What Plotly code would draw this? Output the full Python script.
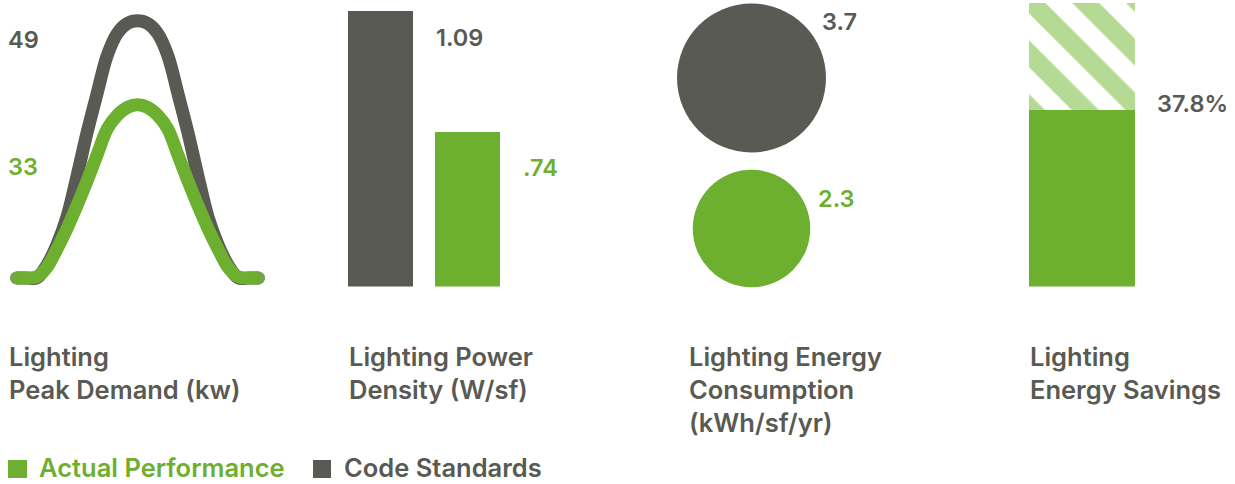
import plotly.graph_objects as go

W, H = 1235, 484
GRAY = "#595A53"
GREEN = "#6DAF2E"
LIGHT = "#B5DA94"
FONT = "Inter"

# ---------------- data ----------------
# Panel 1: peak demand curves (hour of day, kW), read at each hour
hours = list(range(25))
code_kw = [0, 0, 0, 2.4, 6.3, 11.6, 19.4, 27.7, 35.2, 42.4, 46.6, 48.5, 49,
           48.5, 46.6, 42.4, 35.2, 27.7, 19.4, 11.6, 6.3, 2.4, 0, 0, 0]
actual_kw = [0, 0, 0.2, 2.0, 5.5, 9.4, 13.8, 18.5, 23.5, 28.4, 31.0, 32.5, 33,
             32.5, 31.0, 28.4, 23.5, 18.5, 13.8, 9.4, 5.5, 2.0, 0.2, 0, 0]
peak_labels = ["49", "33"]

# Panel 2: lighting power density (W/sf)
lpd_series = ["Code Standards", "Actual Performance"]
lpd_values = [1.09, 0.74]
lpd_labels = ["1.09", ".74"]

# Panel 3: energy consumption (kWh/sf/yr)
euc_series = ["Code Standards", "Actual Performance"]
euc_values = [3.7, 2.3]
euc_labels = ["3.7", "2.3"]

# Panel 4: energy savings (%)
savings_actual = [62.2]
savings_saved = [37.8]
savings_label = "37.8%"

categories = ["Lighting<br>Peak Demand (kw)", "Lighting Power<br>Density (W/sf)",
              "Lighting Energy<br>Consumption<br>(kWh/sf/yr)", "Lighting<br>Energy Savings"]
legend_names = ["Actual Performance", "Code Standards"]


def fx(p):
    return p / W


def fy(p):
    return 1 - p / H


fig = go.Figure()

# ---- Panel 1 ----
end_sizes = [13] + [0] * (len(hours) - 2) + [13]
fig.add_trace(go.Scatter(x=hours, y=code_kw, mode="lines+markers",
                         line=dict(color=GRAY, width=13, shape="spline", smoothing=1.0),
                         marker=dict(size=end_sizes, color=GRAY, line=dict(width=0)),
                         xaxis="x", yaxis="y", showlegend=False, hoverinfo="skip"))
fig.add_trace(go.Scatter(x=hours, y=actual_kw, mode="lines+markers",
                         line=dict(color=GREEN, width=13, shape="spline", smoothing=1.0),
                         marker=dict(size=end_sizes, color=GREEN, line=dict(width=0)),
                         xaxis="x", yaxis="y", showlegend=False, hoverinfo="skip"))

# ---- Panel 2 ----
fig.add_trace(go.Bar(x=[0, 1], y=lpd_values, width=0.75,
                     marker=dict(color=[GRAY, GREEN], line=dict(width=0)),
                     xaxis="x2", yaxis="y2", showlegend=False, hoverinfo="skip"))

# ---- Panel 3 ----
sref = 2 * euc_values[0] / 149.0 ** 2
fig.add_trace(go.Scatter(x=[0, 0], y=[1, 0], mode="markers",
                         marker=dict(size=euc_values, sizemode="area", sizeref=sref,
                                     color=[GRAY, GREEN], line=dict(width=0), opacity=1),
                         xaxis="x3", yaxis="y3", showlegend=False, hoverinfo="skip",
                         cliponaxis=False))

# ---- Panel 4 ----
fig.add_trace(go.Bar(x=[0], y=savings_actual, width=1,
                     marker=dict(color=GREEN, line=dict(width=0)),
                     xaxis="x4", yaxis="y4", showlegend=False, hoverinfo="skip"))
fig.add_trace(go.Bar(x=[0], y=savings_saved, width=1,
                     marker=dict(color=LIGHT, line=dict(width=0),
                                 pattern=dict(shape="\\", size=38, solidity=0.5,
                                              fgcolor=LIGHT, bgcolor="white", fillmode="replace")),
                     xaxis="x4", yaxis="y4", showlegend=False, hoverinfo="skip"))

ax = dict(visible=False, fixedrange=True)
ytop = fy(286.5)
PXH, PXK = 10.083, 5.25  # px per hour, px per kW (panel 1)
fig.update_layout(
    xaxis=dict(domain=[fx(0), fx(270)], range=[-16.5 / PXH, 24 + 11.5 / PXH], **ax),
    yaxis=dict(domain=[ytop, 1], range=[-8.5 / PXK, 278 / PXK], **ax),
    xaxis2=dict(domain=[fx(336.5), fx(510.5)], range=[-0.5, 1.5], **ax),
    yaxis2=dict(domain=[ytop, 1], range=[0.293, 1.09 + 11 / 345.7], **ax),
    xaxis3=dict(domain=[fx(661.5), fx(841.5)], range=[-1, 1], **ax),
    yaxis3=dict(domain=[ytop, 1], range=[-58 / 150.5, 1 + 78 / 150.5], **ax),
    xaxis4=dict(domain=[fx(1029), fx(1135)], range=[-0.5, 0.5], **ax),
    yaxis4=dict(domain=[ytop, 1], range=[0, 286.5 / 2.84], **ax),
    barmode="stack",
    bargap=0,
    width=W, height=H,
    margin=dict(l=0, r=0, t=0, b=0),
    paper_bgcolor="white", plot_bgcolor="rgba(0,0,0,0)",
    showlegend=False,
)

annots = []


def num(text, x, y, color):
    annots.append(dict(text=text, x=fx(x), y=fy(y), xref="paper", yref="paper",
                       xanchor="left", yanchor="middle", showarrow=False,
                       font=dict(family=FONT, size=23.5, color=color, weight=600)))


num(peak_labels[0], 6, 39, GRAY)
num(peak_labels[1], 6, 166, GREEN)
num(lpd_labels[0], 434, 38, GRAY)
num(lpd_labels[1], 521, 168, GREEN)
num(euc_labels[0], 820, 22, GRAY)
num(euc_labels[1], 816, 198, GREEN)
num(savings_label, 1155, 104, GRAY)

for text, x in zip(categories, [8, 348, 688, 1029]):
    annots.append(dict(text=text, x=fx(x - 1), y=fy(339), xref="paper", yref="paper",
                       xanchor="left", yanchor="top", align="left", showarrow=False,
                       font=dict(family=FONT, size=25.5, color=GRAY, weight=600)))

# legend
annots.append(dict(text=legend_names[0], x=fx(38), y=0, xref="paper", yref="paper",
                   xanchor="left", yanchor="bottom", showarrow=False, borderpad=0,
                   font=dict(family=FONT, size=25.5, color=GREEN, weight=600)))
annots.append(dict(text=legend_names[1], x=fx(343), y=0, xref="paper", yref="paper",
                   xanchor="left", yanchor="bottom", showarrow=False, borderpad=0,
                   font=dict(family=FONT, size=25.5, color=GRAY, weight=600)))
fig.update_layout(annotations=annots)

shapes = [
    dict(type="rect", xref="paper", yref="paper", x0=fx(8), x1=fx(27), y0=fy(478), y1=fy(460),
         fillcolor=GREEN, line=dict(width=0)),
    dict(type="rect", xref="paper", yref="paper", x0=fx(313), x1=fx(331), y0=fy(478), y1=fy(460),
         fillcolor=GRAY, line=dict(width=0)),
]
fig.update_layout(shapes=shapes)

fig.write_html("out.html", config={"displayModeBar": False},
               post_script="document.body.style.margin='0';document.body.style.overflow='hidden';")
